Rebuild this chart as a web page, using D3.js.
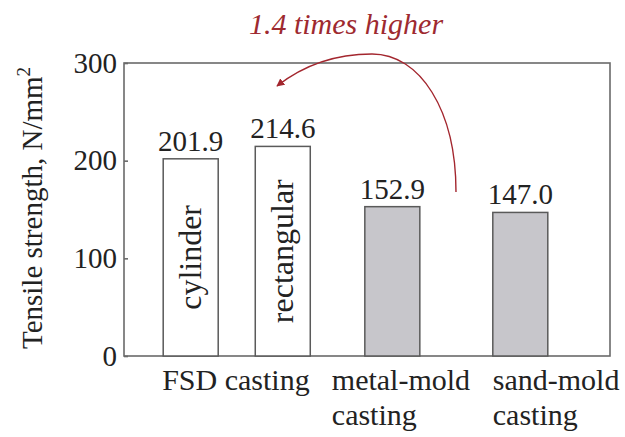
<!DOCTYPE html>
<html>
<head>
<meta charset="utf-8">
<script src="https://cdn.jsdelivr.net/npm/d3@7"></script>
<style>
  html, body { margin: 0; padding: 0; background: #fff; }
</style>
</head>
<body>
<svg id="chart" width="625" height="437"></svg>
<script>
// Tensile strength of castings by method
const barKeys = ["cylinder", "rectangular", "metal-mold", "sand-mold"];
const barValues = [201.9, 214.6, 152.9, 147.0];
const barInnerLabels = ["cylinder", "rectangular", "", ""];
const barGroups = ["FSD", "FSD", "metal", "sand"];
const groupLabels = [
  { group: "FSD", lines: ["FSD casting"] },
  { group: "metal", lines: ["metal-mold", "casting"] },
  { group: "sand", lines: ["sand-mold", "casting"] }
];
const yTicks = [0, 100, 200, 300];
const yTitle = "Tensile strength, N/mm";
const annotation = "1.4 times higher";

const FONT = "'Liberation Serif', 'Times New Roman', Tinos, 'Noto Serif', 'DejaVu Serif', FreeSerif, serif";
const FS = 29;

const svg = d3.select("#chart").attr("font-family", FONT);
const frame = { left: 124, right: 610, top: 63, bottom: 356 };

const y = d3.scaleLinear().domain([0, 300]).range([frame.bottom, frame.top]);

// bar slots: the two FSD bars sit side by side, the others are spread out
const slot = { "cylinder": 0, "rectangular": 1, "metal-mold": 2.19, "sand-mold": 3.58 };
const x = d3.scaleLinear().domain([0, 3.58]).range([190.7, 520.3]);
const barW = 55;

const fillFor = g => g === "FSD" ? "#ffffff" : "#c7c6cb";

// plot frame
svg.append("rect")
  .attr("x", frame.left).attr("y", frame.top)
  .attr("width", frame.right - frame.left).attr("height", frame.bottom - frame.top)
  .attr("fill", "none").attr("stroke", "#6a6a6a").attr("stroke-width", 1.6);

// y axis with inward ticks
const yAxis = d3.axisLeft(y).tickValues(yTicks).tickSizeInner(-4).tickSizeOuter(0).tickPadding(7);
const gy = svg.append("g").attr("transform", `translate(${frame.left},0)`).call(yAxis)
  .attr("font-family", FONT);
gy.select(".domain").remove();
gy.selectAll(".tick line").attr("stroke", "#6a6a6a").attr("stroke-width", 1.6);
gy.selectAll(".tick text")
  .attr("font-size", FS).attr("fill", "#222");

// y axis title
const title = svg.append("text")
  .attr("transform", `translate(42,208) rotate(-90)`)
  .attr("text-anchor", "middle")
  .attr("font-size", FS).attr("fill", "#222");
title.append("tspan").text(yTitle);
title.append("tspan").attr("dy", -12).attr("font-size", 19).text("2");

// bars
const bars = barKeys.map((k, i) => ({ key: k, value: barValues[i], inner: barInnerLabels[i], group: barGroups[i] }));

svg.append("g").selectAll("rect").data(bars).join("rect")
  .attr("x", d => x(slot[d.key]) - barW / 2)
  .attr("y", d => y(d.value))
  .attr("width", barW)
  .attr("height", d => y(0) - y(d.value))
  .attr("fill", d => fillFor(d.group))
  .attr("stroke", "#5a5a5a").attr("stroke-width", 1.5);

// value labels
svg.append("g").selectAll("text").data(bars).join("text")
  .attr("x", d => x(slot[d.key]))
  .attr("y", d => y(d.value) - 8)
  .attr("text-anchor", "middle")
  .attr("font-size", FS).attr("fill", "#222")
  .text(d => d.value.toFixed(1));

// rotated labels inside the FSD bars
svg.append("g").selectAll("text").data(bars.filter(d => d.inner)).join("text")
  .attr("transform", d => `translate(${x(slot[d.key]) + 10},${(y(d.value) + y(0)) / 2}) rotate(-90)`)
  .attr("text-anchor", "middle")
  .attr("font-size", 32).attr("fill", "#222")
  .text(d => d.inner);

// category labels under the axis
const groupLeft = g => {
  const members = bars.filter(d => d.group === g);
  return d3.min(members, d => x(slot[d.key]) - barW / 2);
};
const labelShift = { FSD: -1, metal: -33, sand: 0 };
groupLabels.forEach(gl => {
  const t = svg.append("text")
    .attr("x", groupLeft(gl.group) + labelShift[gl.group])
    .attr("y", 390)
    .attr("font-size", 30).attr("fill", "#222");
  gl.lines.forEach((line, i) => {
    t.append("tspan")
      .attr("x", groupLeft(gl.group) + labelShift[gl.group])
      .attr("dy", i === 0 ? 0 : 35)
      .text(line);
  });
});

// annotation arrow from the mold castings back to the FSD bars
const arrowColor = "#a3262e";
svg.append("defs").append("marker")
  .attr("id", "head")
  .attr("viewBox", "0 0 10 10")
  .attr("refX", 9).attr("refY", 5)
  .attr("markerWidth", 8).attr("markerHeight", 8)
  .attr("markerUnits", "userSpaceOnUse")
  .attr("orient", "auto")
  .append("path").attr("d", "M0,0 L10,5 L0,10 Z").attr("fill", arrowColor);

svg.append("path")
  .attr("d", "M456,192 C456,110 420,54 372,54 C332,54 300,68 277,86")
  .attr("fill", "none").attr("stroke", arrowColor).attr("stroke-width", 1.4)
  .attr("marker-end", "url(#head)");

svg.append("text")
  .attr("x", 346).attr("y", 34)
  .attr("text-anchor", "middle")
  .attr("font-size", 30).attr("font-style", "italic")
  .attr("fill", "#9e2a30")
  .text(annotation);
</script>
</body>
</html>
